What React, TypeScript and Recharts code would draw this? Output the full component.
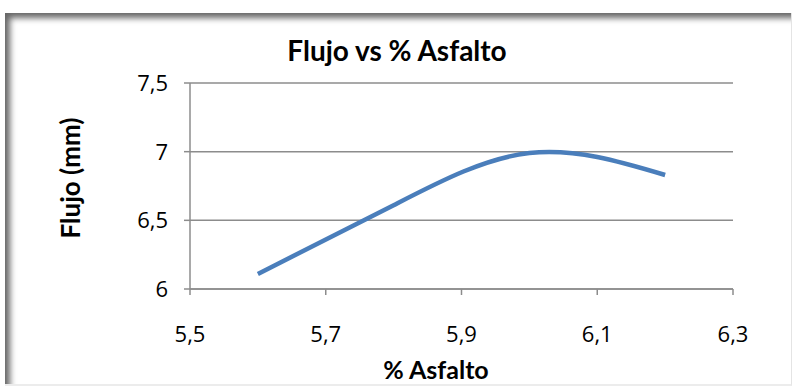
import { LineChart, Line, XAxis, YAxis, CartesianGrid } from 'recharts';

const asfalto = [5.6, 5.8, 6.0, 6.2];
const flujo = [6.11, 6.61, 6.99, 6.83];
const xTicks = [5.5, 5.7, 5.9, 6.1, 6.3];
const yTicks = [6, 6.5, 7, 7.5];

const data = asfalto.map((x, i) => ({ x, y: flujo[i] }));

const FONT = 'Lato, "Open Sans", sans-serif';
const TICK_FONT = '"Open Sans", sans-serif';
const comma = (v: number) => String(v).replace('.', ',');

const XTick = ({ x, y, payload }: any) => (
  <text x={x} y={y} dy="0.75em" textAnchor="middle" fill="#000" style={{ fontSize: 22, fontFamily: TICK_FONT }}>
    {comma(payload.value)}
  </text>
);

const YTick = ({ x, y, payload }: any) => (
  <text x={x} y={y} dy="0.36em" textAnchor="end" fill="#000" style={{ fontSize: 22, fontFamily: TICK_FONT }}>
    {comma(payload.value)}
  </text>
);

export default function App() {
  return (
    <div style={{ position: 'fixed', left: 0, top: 0, width: 793, height: 387, background: '#fff', fontFamily: FONT }}>
      {/* frame with shadow on top/left */}
      <div
        style={{
          position: 'absolute',
          left: 5,
          top: 13,
          width: 786,
          height: 371,
          borderRight: '1px solid #e4e4e4',
          borderBottom: '2px solid #ececec',
          boxShadow: 'inset 8px 8px 6px -3px rgba(0,0,0,0.6)',
        }}
      />
      <LineChart
        width={793}
        height={387}
        data={data}
        margin={{ top: 83, right: 60, bottom: 68, left: 0 }}
        style={{ position: 'absolute', left: 0, top: 0 }}
      >
        <CartesianGrid vertical={false} stroke="#8c8c8c" strokeWidth={1.5} />
        <XAxis
          dataKey="x"
          type="number"
          domain={[5.5, 6.3]}
          ticks={xTicks}
          height={30}
          stroke="#8c8c8c"
          strokeWidth={1.5}
          tickSize={6}
          tickMargin={30}
          tick={<XTick />}
        />
        <YAxis
          type="number"
          domain={[6, 7.5]}
          ticks={yTicks}
          width={190}
          stroke="#8c8c8c"
          strokeWidth={1.5}
          tickSize={6}
          tickMargin={16}
          tick={<YTick />}
        />
        <Line
          dataKey="y"
          type="natural"
          stroke="#4a7ebb"
          strokeWidth={4.5}
          dot={false}
          isAnimationActive={false}
        />
      </LineChart>
      <div
        style={{
          position: 'absolute',
          left: 397,
          top: 50,
          transform: 'translate(-50%, -50%)',
          fontSize: 28,
          fontWeight: 700,
          whiteSpace: 'nowrap',
        }}
      >
        Flujo vs % Asfalto
      </div>
      <div
        style={{
          position: 'absolute',
          left: 70,
          top: 178,
          transform: 'translate(-50%, -50%) rotate(-90deg)',
          fontSize: 26,
          fontWeight: 700,
          whiteSpace: 'nowrap',
        }}
      >
        Flujo (mm)
      </div>
      <div
        style={{
          position: 'absolute',
          left: 436,
          top: 369,
          transform: 'translate(-50%, -50%)',
          fontSize: 25,
          fontWeight: 700,
          whiteSpace: 'nowrap',
        }}
      >
        % Asfalto
      </div>
    </div>
  );
}
